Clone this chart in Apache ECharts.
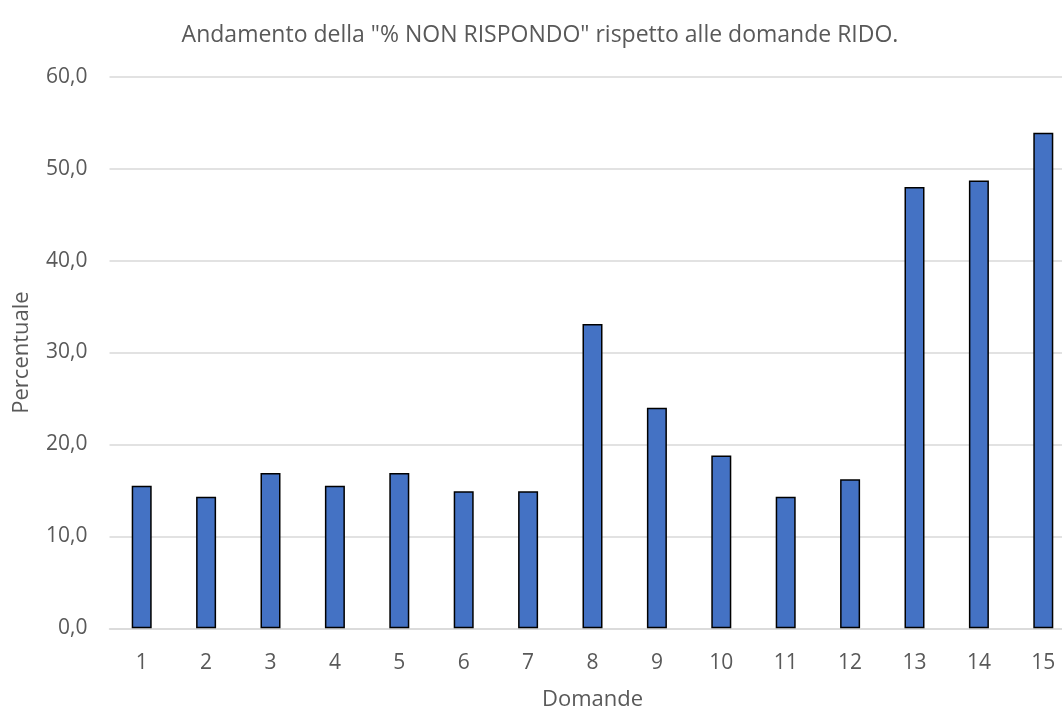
<!DOCTYPE html>
<html>
<head>
<meta charset="utf-8">
<script src="https://cdn.jsdelivr.net/npm/echarts@6/dist/echarts.min.js"></script>
<style>
  html, body { margin: 0; padding: 0; background: #fff; overflow: hidden; }
  /* plot area runs a little past the right edge in the original, so the canvas is wider than the visible box */
  #wrap { width: 1062px; height: 707px; overflow: hidden; }
  #main { width: 1076px; height: 707px; }
</style>
</head>
<body>
<div id="wrap"><div id="main"></div></div>
<script>
// domande 1..15 and the % of "non rispondo"
var domande = ['1', '2', '3', '4', '5', '6', '7', '8', '9', '10', '11', '12', '13', '14', '15'];
var percentuale = [15.5, 14.3, 16.9, 15.5, 16.9, 14.9, 14.9, 33.1, 24.0, 18.8, 14.3, 16.2, 48.0, 48.7, 53.9];
var yTicks = [0, 10, 20, 30, 40, 50, 60];

var font = '"Open Sans", "Noto Sans", sans-serif';
var grey = '#595959';

var chart = echarts.init(document.getElementById('main'));

var option = {
  backgroundColor: '#fff',
  animation: false,
  title: {
    text: 'Andamento della "% NON RISPONDO" rispetto alle domande RIDO.',
    left: 535,
    textAlign: 'center',
    top: 19,
    textStyle: { fontFamily: font, fontSize: 23, fontWeight: 'normal', color: grey }
  },
  // fixed plot box, no auto shrinking for the axis names
  grid: { left: 109.5, right: 0.5, top: 76.7, bottom: 78.7, outerBoundsMode: 'none' },
  xAxis: {
    type: 'category',
    data: domande,
    name: 'Domande',
    nameLocation: 'middle',
    nameGap: 60,
    nameTextStyle: { fontFamily: font, fontSize: 22, color: grey },
    axisLine: { lineStyle: { color: '#d9d9d9', width: 1.5 } },
    axisTick: { show: false },
    axisLabel: { fontFamily: font, fontSize: 21, color: grey, margin: 24 }
  },
  yAxis: {
    type: 'value',
    min: yTicks[0],
    max: yTicks[yTicks.length - 1],
    interval: 10,
    name: 'Percentuale',
    nameLocation: 'middle',
    nameGap: 77,
    nameTextStyle: { fontFamily: font, fontSize: 22, color: grey },
    axisLine: { show: false },
    axisTick: { show: false },
    splitLine: { lineStyle: { color: '#d9d9d9', width: 1.5 } },
    axisLabel: {
      fontFamily: font, fontSize: 21, color: grey, margin: 22,
      formatter: function (v) { return v.toFixed(1).replace('.', ','); }
    }
  },
  series: [{
    type: 'bar',
    data: percentuale,
    barWidth: 20,
    itemStyle: { color: '#4472C4', borderColor: '#000', borderWidth: 1.5 }
  }]
};

chart.setOption(option);
</script>
</body>
</html>
